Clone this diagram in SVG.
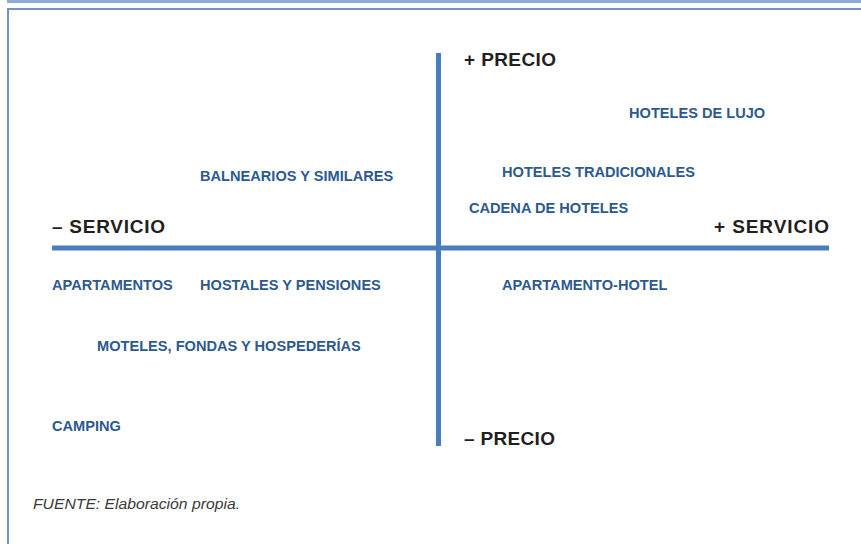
<svg xmlns="http://www.w3.org/2000/svg" width="861" height="544" viewBox="0 0 861 544">
<style>
.axl{font-family:"Liberation Sans",Arial,sans-serif;font-weight:bold;font-size:19px;fill:#231f20}
.it{font-family:"Liberation Sans",Arial,sans-serif;font-weight:bold;font-size:14.6px;fill:#2d5a8e}
.src{font-family:"Liberation Sans",Arial,sans-serif;font-style:italic;font-size:14.5px;fill:#3a3a3a}
.ax{stroke:#4a7ebb;stroke-width:5}
</style>
<rect x="7" y="0" width="854" height="3" fill="#8eaad8"/>
<g id="frame">
<line x1="7" y1="9" x2="861" y2="9" stroke="#7093c8" stroke-width="2"/>
<line x1="8" y1="8" x2="8" y2="544" stroke="#7093c8" stroke-width="2"/>
</g>
<g id="connectors">
<line class="ax" x1="438.5" y1="53" x2="438.5" y2="446"/>
<line class="ax" x1="52" y1="248" x2="829" y2="248"/>
</g>
<g id="axis-labels">
<text id="precio-plus" class="axl" x="464" y="66" textLength="92" lengthAdjust="spacing">+ PRECIO</text>
<text id="precio-minus" class="axl" x="464" y="445" textLength="91" lengthAdjust="spacing">– PRECIO</text>
<text id="servicio-minus" class="axl" x="52" y="233" textLength="113" lengthAdjust="spacing">– SERVICIO</text>
<text id="servicio-plus" class="axl" x="714" y="233" textLength="115" lengthAdjust="spacing">+ SERVICIO</text>
</g>
<g id="hoteles-lujo"><text class="it" x="629" y="118">HOTELES DE LUJO</text></g>
<g id="balnearios"><text class="it" x="200" y="181">BALNEARIOS Y SIMILARES</text></g>
<g id="hoteles-tradicionales"><text class="it" x="502" y="177">HOTELES TRADICIONALES</text></g>
<g id="cadena-hoteles"><text class="it" x="469" y="213">CADENA DE HOTELES</text></g>
<g id="apartamentos"><text class="it" x="52" y="290">APARTAMENTOS</text></g>
<g id="hostales"><text class="it" x="200" y="290">HOSTALES Y PENSIONES</text></g>
<g id="apartamento-hotel"><text class="it" x="502" y="290">APARTAMENTO-HOTEL</text></g>
<g id="moteles"><text class="it" x="97" y="351">MOTELES, FONDAS Y HOSPEDERÍAS</text></g>
<g id="camping"><text class="it" x="52" y="431">CAMPING</text></g>
<text class="src" x="33" y="509" textLength="207" lengthAdjust="spacingAndGlyphs">FUENTE: Elaboración propia.</text>
</svg>
